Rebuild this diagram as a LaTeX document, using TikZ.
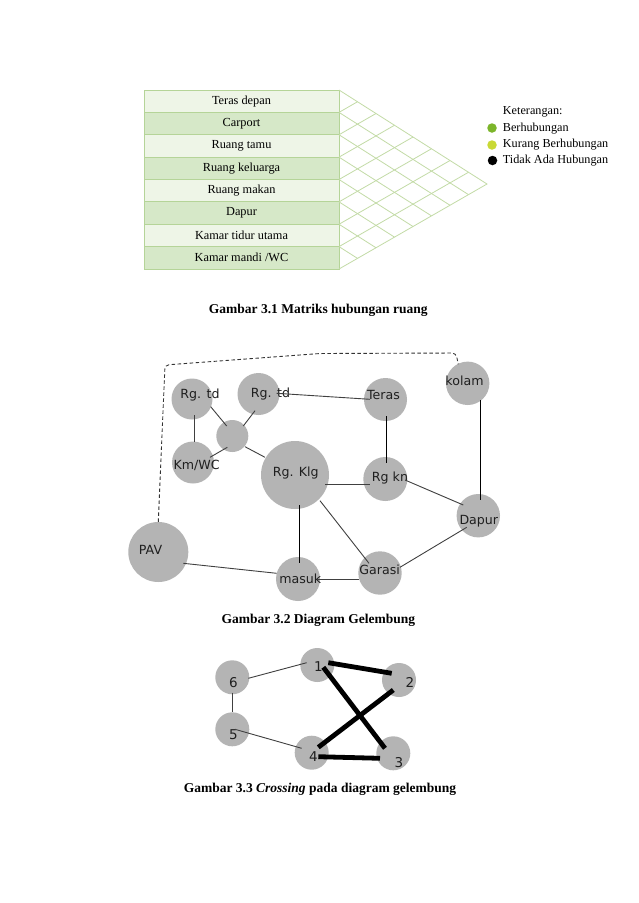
\documentclass[tikz,border=0pt]{standalone}
\usepackage{fontspec}
\setmainfont{Liberation Serif}
\newfontfamily\bubfont{DejaVu Sans}
\usetikzlibrary{calc}
\definecolor{rowlight}{HTML}{EEF5E7}
\definecolor{rowdark}{HTML}{D6E8C8}
\definecolor{gridgreen}{HTML}{C3DBA6}
\definecolor{bordergreen}{HTML}{B5D498}
\definecolor{bubble}{HTML}{B4B4B4}
\definecolor{dotgreen}{HTML}{7CB52A}
\definecolor{dotyellow}{HTML}{C9D935}
\definecolor{edgegray}{HTML}{404040}
\begin{document}
\begin{tikzpicture}[x=1pt,y=-1pt,
  rowbox/.style={draw=bordergreen, line width=0.8pt, minimum width=195pt, minimum height=22.375pt, inner sep=0pt, text=black, font=\fontsize{12.3}{14}\selectfont},
  gridline/.style={draw=gridgreen, line width=0.8pt},
  legtxt/.style={anchor=west, inner sep=0pt, text=black, font=\fontsize{12.2}{14}\selectfont},
  legdot/.style={circle, inner sep=0pt, minimum size=9.5pt},
  caption/.style={inner sep=0pt, font=\bfseries\fontsize{13.5}{16}\selectfont},
  bub/.style={circle, fill=bubble, inner sep=0pt},
  btxt/.style={inner sep=0pt, text=black!88, font=\bubfont\fontsize{12.6}{14}\selectfont},
  ctxt/.style={inner sep=0pt, text=black!88, font=\bubfont\fontsize{13.5}{15}\selectfont},
  edge/.style={draw=edgegray, line width=0.9pt},
  dedge/.style={draw=black, line width=0.9pt},
  thick edge/.style={draw=black, line width=4.8pt},
  dashline/.style={draw=black!80, line width=0.9pt, dash pattern=on 3.5pt off 2.5pt, rounded corners=4pt}
]
\useasboundingbox (0,0) rectangle (638,903);
\fill[white] (0,0) rectangle (638,903);

% ---------- Gambar 3.1 ----------
\foreach \i/\txt/\col in {0/{Teras depan}/rowlight, 1/{Carport}/rowdark, 2/{Ruang tamu}/rowlight, 3/{Ruang keluarga}/rowdark, 4/{Ruang makan}/rowlight, 5/{Dapur}/rowdark, 6/{Kamar tidur utama}/rowlight, 7/{Kamar mandi /WC}/rowdark}{
  \node[rowbox, fill=\col] (row\i) at (241.5,{90+22.375*(\i+0.5)}) {\txt};
}
\coordinate (A) at (339,90);
\coordinate (B) at (339,269);
\coordinate (C) at (487,184);
\draw[gridline] (A) -- (C) -- (B);
\foreach \i in {1,...,7}{
  \draw[gridline] ($(A)!\i/8!(B)$) -- ($(B)!{1-\i/8}!(C)$);
  \draw[gridline] ($(A)!\i/8!(B)$) -- ($(A)!\i/8!(C)$);
}
\node[legtxt] (keter) at (502.7,111.7) {Keterangan:};
\node[legdot, fill=dotgreen] (d1) at (492,128) {};
\node[legtxt] (l1) at (502.7,128.3) {Berhubungan};
\node[legdot, fill=dotyellow] (d2) at (492,145) {};
\node[legtxt] (l2) at (502.7,145) {Kurang Berhubungan};
\node[legdot, fill=black] (d3) at (492.5,160.5) {};
\node[legtxt] (l3) at (502.7,161) {Tidak Ada Hubungan};
\node[caption] (cap1) at (318.3,310.7) {Gambar 3.1 Matriks hubungan ruang};

% ---------- Gambar 3.2 ----------
\node[bub, minimum size=41pt] (rgtdA) at (192,399) {};
\node[bub, minimum size=42pt] (rgtdB) at (258.5,394) {};
\node[bub, minimum size=32pt] (hub) at (232.3,436) {};
\node[bub, minimum size=42pt] (kmwc) at (193,462.5) {};
\node[bub, minimum size=68pt] (rgklg) at (295,475) {};
\node[bub, minimum size=43pt] (teras) at (385.5,399.5) {};
\node[bub, minimum size=43.4pt] (kolam) at (467.7,383.3) {};
\node[bub, minimum size=44pt] (rgkn) at (385.3,479) {};
\node[bub, minimum size=43.4pt] (dapur) at (478.3,515.7) {};
\node[bub, minimum size=43.4pt] (garasi) at (380,573) {};
\node[bub, minimum size=44pt] (masuk) at (298,579) {};
\node[bub, minimum size=60pt] (pav) at (158.3,552) {};

\node[btxt] (trgtdA) at ($(rgtdA)+(8,-4)$) {Rg. td};
\node[btxt] (trgtdB) at ($(rgtdB)+(12,0.3)$) {Rg. td};
\node[btxt] (tkmwc) at ($(kmwc)+(3.7,3.2)$) {Km/WC};
\node[btxt] (trgklg) at ($(rgklg)+(0.8,-2.3)$) {Rg. Klg};
\node[btxt] (tteras) at ($(teras)+(-2,-4.5)$) {Teras};
\node[btxt] (tkolam) at ($(kolam)+(-3.2,-2.3)$) {kolam};
\node[btxt] (trgkn) at ($(rgkn)+(4.7,-1)$) {Rg kn};
\node[btxt] (tdapur) at ($(dapur)+(0.5,6)$) {Dapur};
\node[btxt] (tgarasi) at ($(garasi)+(-0.3,-3)$) {Garasi};
\node[btxt] (tmasuk) at ($(masuk)+(2.3,-0.7)$) {masuk};
\node[btxt] (tpav) at ($(pav)+(-7.8,-2)$) {PAV};

\draw[edge] ($(rgtdA)+(2,16)$) -- ($(kmwc)+(1,-20.8)$);
\draw[edge] ($(rgtdA)+(18.7,7.7)$) -- ($(hub)+(-5.6,-10)$);
\draw[edge] ($(rgtdB)+(-3.5,16.7)$) -- ($(hub)+(11,-10)$);
\draw[edge] ($(kmwc)+(17,-5.2)$) -- ($(hub)+(-5,11.3)$);
\draw[edge] ($(hub)+(12.7,10.7)$) -- ($(rgklg)+(-30,-17.7)$);
\draw[edge] ($(rgtdB)+(18.2,-0.7)$) -- ($(teras)+(-15.5,-0.2)$);
\draw[dedge] ($(teras)+(0.5,16.5)$) -- ($(rgkn)+(0.7,-15.7)$);
\draw[edge] ($(rgklg)+(30,9.3)$) -- ($(rgkn)+(-15.3,5.3)$);
\draw[edge] ($(rgkn)+(19.7,1)$) -- ($(dapur)+(-15,-10.7)$);
\draw[dedge] ($(kolam)+(12.3,16.7)$) -- ($(dapur)+(1.7,-15.7)$);
\draw[edge] ($(rgklg)+(25,25.7)$) -- ($(garasi)+(-11,-9.7)$);
\draw[edge] ($(dapur)+(-11.6,11.6)$) -- ($(garasi)+(20,-5.7)$);
\draw[edge] ($(masuk)+(19,0)$) -- ($(garasi)+(-20.7,6)$);
\draw[dedge] ($(rgklg)+(4,30)$) -- ($(masuk)+(1,-15.7)$);
\draw[edge] ($(pav)+(25,11.3)$) -- ($(masuk)+(-21.3,-5.7)$);
\coordinate (dc1) at (165,365);
\coordinate (dc2) at (320,353.5);
\coordinate (dc3) at (456,353);
\draw[dashline] (pav.north) -- (dc1) -- (dc2) -- (dc3) -- ($(kolam)+(-9.5,-19)$);

\node[caption] (cap2) at (318.3,620.7) {Gambar 3.2 Diagram Gelembung};

% ---------- Gambar 3.3 ----------
\node[bub, minimum size=34pt] (n6) at (232.3,677.3) {};
\node[bub, minimum size=34pt] (n5) at (232.3,729.3) {};
\node[bub, minimum size=34pt] (n1) at (317.3,665) {};
\node[bub, minimum size=34pt] (n2) at (399,680) {};
\node[bub, minimum size=34pt] (n4) at (311.7,752.7) {};
\node[bub, minimum size=34pt] (n3) at (393.3,753.3) {};
\node[ctxt] (t6) at ($(n6)+(1,5.4)$) {6};
\node[ctxt] (t5) at ($(n5)+(1,5.7)$) {5};
\node[ctxt] (t1) at ($(n1)+(1,1.7)$) {1};
\node[ctxt] (t2) at ($(n2)+(11,2.7)$) {2};
\node[ctxt] (t4) at ($(n4)+(1.6,4)$) {4};
\node[ctxt] (t3) at ($(n3)+(5.7,9.4)$) {3};

\draw[edge] ($(n6)+(16,1)$) -- ($(n1)+(-10.6,-2.3)$);
\draw[edge] ($(n6)+(0,15.4)$) -- ($(n5)+(0,-17.6)$);
\draw[edge] ($(n5)+(2.7,0)$) -- ($(n4)+(-10,-4.4)$);
\draw[thick edge] ($(n1)+(11,-2.3)$) -- ($(n2)+(-7.3,-6.7)$);
\draw[thick edge] ($(n1)+(6,2.3)$) -- ($(n3)+(-8.3,-5)$);
\draw[thick edge] ($(n2)+(-5.7,10)$) -- ($(n4)+(6.6,-5.4)$);
\draw[thick edge] ($(n4)+(6.6,4)$) -- ($(n3)+(-13.3,5)$);

\node[caption] (cap3) at (320,789) {Gambar 3.3 \textit{Crossing} pada diagram gelembung};
\end{tikzpicture}
\end{document}
